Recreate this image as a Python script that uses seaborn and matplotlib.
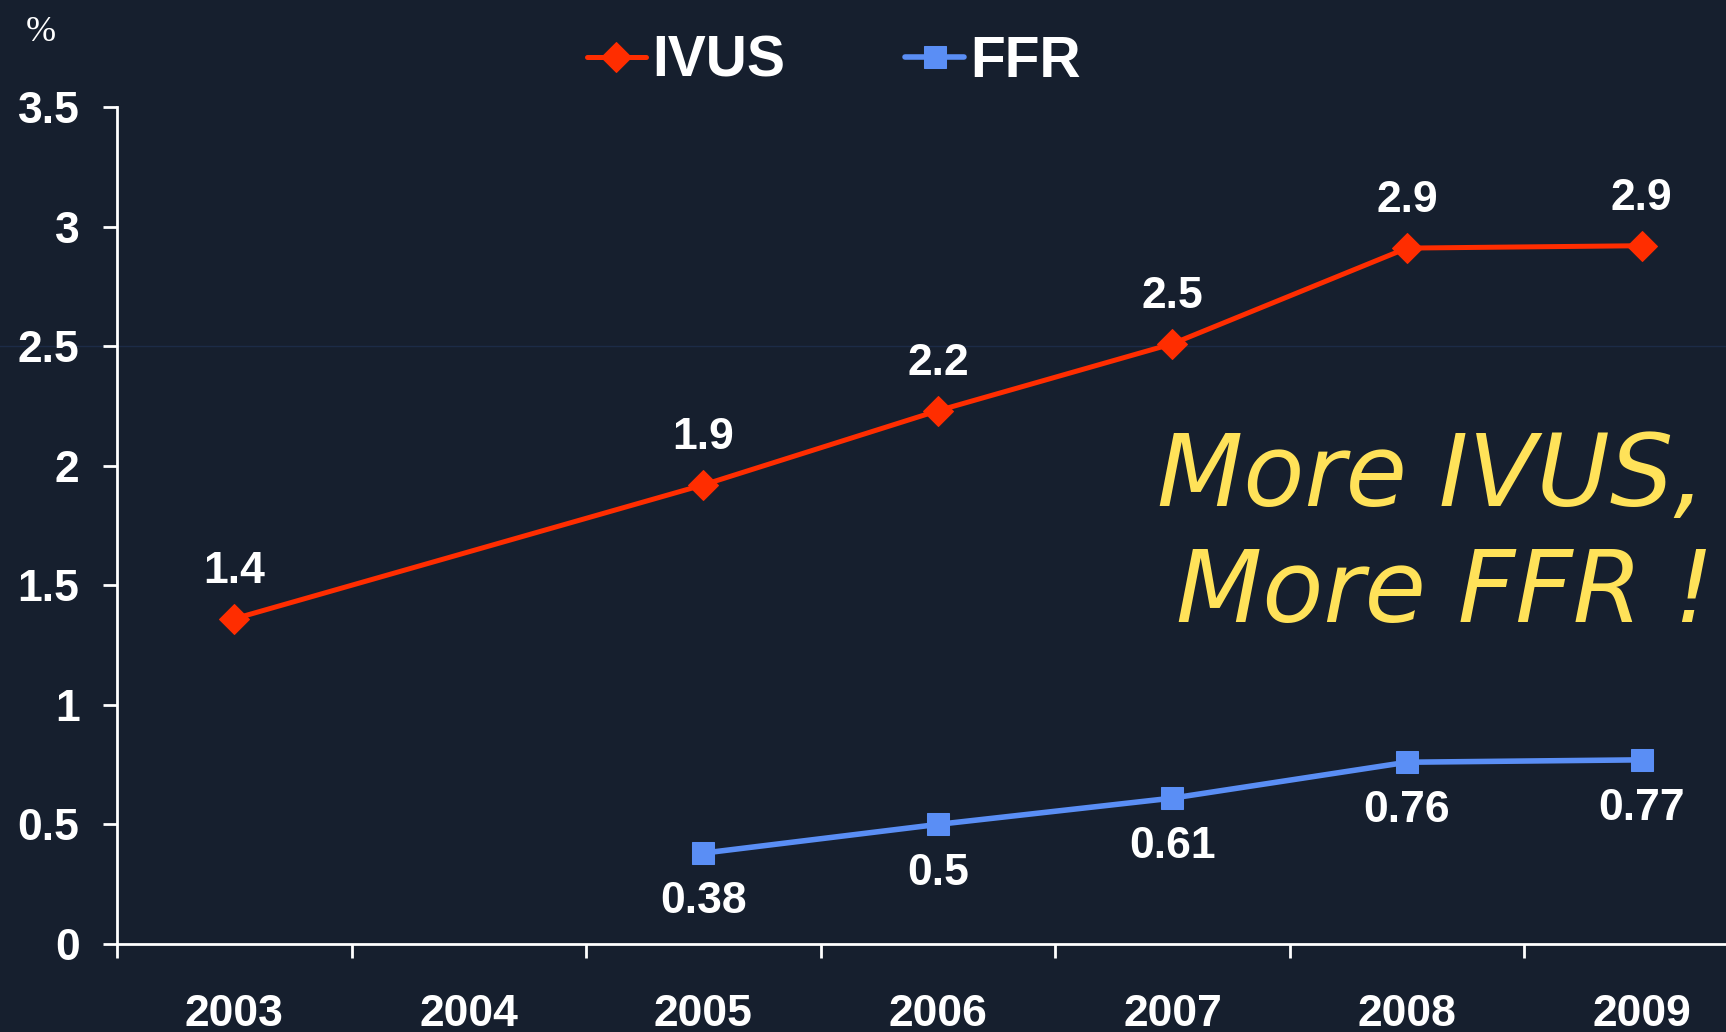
import pandas as pd
import numpy as np
import matplotlib.pyplot as plt
import seaborn as sns

# Data
years = [2003, 2004, 2005, 2006, 2007, 2008, 2009]
ivus = [1.36, np.nan, 1.92, 2.23, 2.51, 2.91, 2.92]
ivus_labels = ['1.4', '', '1.9', '2.2', '2.5', '2.9', '2.9']
ffr = [np.nan, np.nan, 0.38, 0.50, 0.61, 0.76, 0.77]
ffr_labels = ['', '', '0.38', '0.5', '0.61', '0.76', '0.77']
y_ticks = [0, 0.5, 1, 1.5, 2, 2.5, 3, 3.5]

bg = '#161F2E'
red = '#FF2D00'
blue = '#5A8EF5'
yellow = '#FFE259'

sns.set_style('white')
plt.rcParams['font.family'] = ['Liberation Sans', 'DejaVu Sans']

df_ivus = pd.DataFrame({'year': years, 'value': ivus}).dropna()
df_ffr = pd.DataFrame({'year': years, 'value': ffr}).dropna()

fig = plt.figure(figsize=(17.26, 10.32), dpi=100, facecolor=bg)
ax = fig.add_axes([0.0678, 0.0853, 0.9322, 0.811])
ax.set_facecolor(bg)

# faint guide line seen at 2.5
ax.axhline(2.5, xmin=-0.08, xmax=1, color='#1C2B47', lw=1, clip_on=False, zorder=0)

sns.lineplot(data=df_ivus, x='year', y='value', ax=ax, color=red, lw=3.6,
             marker='D', markersize=15, markeredgecolor=red, label='IVUS', legend=False)
sns.lineplot(data=df_ffr, x='year', y='value', ax=ax, color=blue, lw=4,
             marker='s', markersize=16, markeredgecolor=blue, label='FFR', legend=False)

# value labels
for x, v, t in zip(years, ivus, ivus_labels):
    if t:
        ax.annotate(t, (x, v), xytext=(0, 34), textcoords='offset points',
                    ha='center', va='center', color='white', fontsize=32, fontweight='bold')
for x, v, t in zip(years, ffr, ffr_labels):
    if t:
        ax.annotate(t, (x, v), xytext=(0, -35), textcoords='offset points',
                    ha='center', va='center', color='white', fontsize=32, fontweight='bold')

ax.set_xticks(years)
ax.set_xticklabels([str(y) for y in years])
ax.set_xticks(np.arange(2002.5, 2009.6, 1), minor=True)
ax.set_yticks(y_ticks)
ax.set_yticklabels([f'{t:g}' for t in y_ticks])
ax.set_xlim(2002.5, 2009.36)
ax.set_ylim(0, 3.5)
ax.set_xlabel('')
ax.set_ylabel('')

ax.tick_params(axis='x', which='major', length=0, pad=36, labelsize=32, labelcolor='white')
ax.tick_params(axis='x', which='minor', length=10, width=2, color='white',
               direction='out', bottom=True)
ax.tick_params(axis='y', which='major', length=10, width=2, color='white', pad=17,
               labelsize=32, labelcolor='white', left=True)
for lab in ax.get_xticklabels() + ax.get_yticklabels():
    lab.set_fontweight('bold')

sns.despine(ax=ax)
for s in ['left', 'bottom']:
    ax.spines[s].set_color('white')
    ax.spines[s].set_linewidth(2)

fig.legend(loc='center', bbox_to_anchor=(0.483, 0.94), ncol=2, frameon=False,
           prop={'weight': 'bold', 'size': 41}, labelcolor='white',
           handlelength=1.05, handletextpad=0.1, columnspacing=2.1)

fig.text(0.015, 1 - 41 / 1032, '%', family='Liberation Serif', fontsize=26,
         color='white', va='baseline', ha='left')

fig.text(0.988, 1 - 506 / 1032, 'More IVUS,', family='DejaVu Sans', style='italic',
         fontsize=72, color=yellow, ha='right', va='baseline')
fig.text(0.993, 1 - 622 / 1032, 'More FFR !', family='DejaVu Sans', style='italic',
         fontsize=72, color=yellow, ha='right', va='baseline')

plt.savefig('out.png', dpi=100, facecolor=bg)
